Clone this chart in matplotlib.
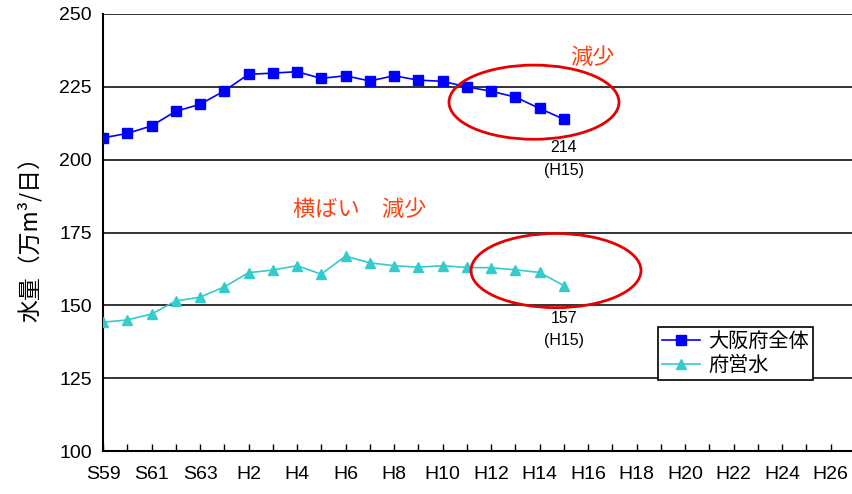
import matplotlib
matplotlib.use("Agg")
import matplotlib.pyplot as plt
from matplotlib.patches import Ellipse

plt.rcParams['font.family'] = ['Liberation Sans', 'Noto Sans CJK JP', 'DejaVu Sans']

# ---- data ----
categories = ["S59", "S60", "S61", "S62", "S63"] + [f"H{i}" for i in range(1, 27)]
osaka_total = [207.5, 209.0, 211.6, 216.6, 219.0, 223.6, 229.3, 229.7, 230.2, 227.9,
               228.8, 227.0, 228.8, 227.3, 226.9, 225.0, 223.5, 221.5, 217.6, 213.9]
fuei = [144.2, 145.0, 147.0, 151.5, 152.8, 156.3, 161.2, 162.1, 163.6, 160.7,
        166.9, 164.6, 163.6, 163.1, 163.6, 163.0, 162.9, 162.2, 161.3, 156.8]
series_names = ["大阪府全体", "府営水"]
yticks = [100, 125, 150, 175, 200, 225, 250]

jp = ['Noto Sans CJK JP', 'DejaVu Sans']
red_txt = '#FF4010'

fig = plt.figure(figsize=(8.52, 4.94), dpi=100)
ax = fig.add_axes([103/852, 1-451/494, 1-103/852, (451-14)/494])

x = list(range(len(categories)))
ax.plot(x[:len(osaka_total)], osaka_total, color='#0000FF', lw=1.2, marker='s',
        markersize=6.5, label=series_names[0], zorder=3)
ax.plot(x[:len(fuei)], fuei, color='#33CCCC', lw=1.2, marker='^',
        markersize=7.5, label=series_names[1], zorder=3)

ax.set_xlim(0, (852-103)/24.25)
ax.set_ylim(100, 250)
ax.set_yticks(yticks)
ax.set_yticklabels([str(v) for v in yticks], fontsize=14)
ax.set_xticks(x)
ax.set_xticklabels([c if i % 2 == 0 else "" for i, c in enumerate(categories)], fontsize=14)
ax.tick_params(axis='x', direction='in', length=5, width=1, pad=11)
ax.tick_params(axis='y', length=0, pad=8)
ax.grid(axis='y', color='#111111', lw=1.2, zorder=1)
for s in ['top', 'right']:
    ax.spines[s].set_visible(False)
for s in ['left', 'bottom']:
    ax.spines[s].set_linewidth(1.5)
    ax.spines[s].set_color('black')

fig.text(30/852, 1-234/494, "水量（万m³/日）", rotation=90, ha='center', va='center',
         fontsize=16.5, family=jp)

# annotations
ax.text((592-103)/24.25, 250-(57-14)/2.907, "減少", color=red_txt, fontsize=16, family=jp,
        ha='center', va='center')
ax.text((360-103)/24.25, 250-(209-14)/2.907, "横ばい　減少", color=red_txt, fontsize=16,
        family=jp, ha='center', va='center')
ax.text(19, 250-(147-14)/2.907, "214", fontsize=11.5, ha='center', va='center')
ax.text(19, 250-(170-14)/2.907, "(H15)", fontsize=11.5, ha='center', va='center')
ax.text(19, 250-(318-14)/2.907, "157", fontsize=11.5, ha='center', va='center')
ax.text(19, 250-(340-14)/2.907, "(H15)", fontsize=11.5, ha='center', va='center')

ax.add_patch(Ellipse(((534-103)/24.25, 250-(102-14)/2.907), 170/24.25, 74/2.907,
                     fill=False, ec='#E60000', lw=2, zorder=4, clip_on=False))
ax.add_patch(Ellipse(((556-103)/24.25, 250-(270-14)/2.907), 170/24.25, 74/2.907,
                     fill=False, ec='#E60000', lw=2, zorder=4, clip_on=False))

leg = ax.legend(loc='upper left', bbox_to_anchor=(658/852, 1-327/494),
                bbox_transform=fig.transFigure, prop={'family': jp, 'size': 14.5},
                frameon=True, fancybox=False, edgecolor='black', framealpha=1,
                borderaxespad=0, borderpad=0.2, labelspacing=0.15, handlelength=1.9,
                handletextpad=0.4)
leg.get_frame().set_linewidth(1.2)
leg.set_zorder(5)

fig.savefig("out.png", dpi=100)
